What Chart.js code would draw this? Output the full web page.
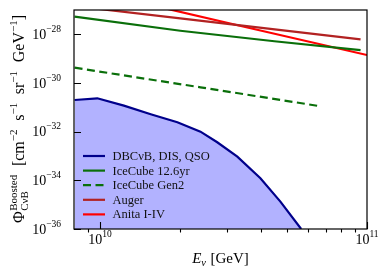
<!DOCTYPE html>
<html><head><meta charset="utf-8">
<script src="https://cdn.jsdelivr.net/npm/chart.js@4/dist/chart.umd.min.js"></script>
<style>html,body{margin:0;padding:0;background:#fff;}#wrap{width:391px;height:279px;}</style>
</head><body><div id="wrap"><canvas id="c" width="391" height="279"></canvas></div>
<script>
// ---- data ----
const energyDBC = [8.04e9, 9.78e9, 1.23e10, 1.55e10, 1.95e10, 2.38e10, 2.75e10, 3.27e10, 3.99e10, 4.74e10, 5.67e10];
const fluxDBC   = [2.0e-31, 2.35e-31, 1.17e-31, 5.2e-32, 2.43e-32, 1.0e-32, 3.67e-33, 9.4e-34, 1.22e-34, 1.33e-35, 1.0e-36];
const energyIC  = [8.04e9, 2.0e10, 4.5e10, 9.46e10];
const fluxIC    = [5.3e-28, 1.4e-28, 5.2e-29, 2.26e-29];
const energyGen2 = [8.04e9, 2.38e10, 6.6e10];
const fluxGen2   = [4.25e-30, 6.65e-31, 1.135e-31];
const energyAuger = [8.04e9, 2.0e10, 9.46e10];
const fluxAuger   = [1.45e-27, 4.5e-28, 6.2e-29];
const energyAnita = [1.45e10, 3.5e10, 1.0e11];
const fluxAnita   = [1.9e-27, 2.0e-28, 1.41e-29];
const seriesLabels = ['DBC\u03BDB, DIS, QSO', 'IceCube 12.6yr', 'IceCube Gen2', 'Auger', 'Anita I-IV'];

const xMajorTicks = [1e10, 1e11];
const xMajorExp = ['10', '11'];
const xMinorTicks = [9e9, 2e10, 3e10, 4e10, 5e10, 6e10, 7e10, 8e10, 9e10];
const yMajorTicks = [1e-36, 1e-34, 1e-32, 1e-30, 1e-28];
const yMajorExp = ['\u221236', '\u221234', '\u221232', '\u221230', '\u221228'];

const SERIF = '"Liberation Serif", "DejaVu Serif", serif';
function pts(xs, ys){ return xs.map((x,i)=>({x:x, y:ys[i]})); }

function partWidth(ctx, p){
  if (p.stack){ return Math.max(...p.stack.map(s=>partWidth(ctx,s))); }
  ctx.font = p.f; return ctx.measureText(p.t).width;
}
function richWidth(ctx, parts){ return parts.reduce((a,p)=>a+partWidth(ctx,p)+(p.gap||0),0); }
function drawRich(ctx, parts, x, y){
  let cx = x;
  for (const p of parts){
    if (p.stack){
      for (const s of p.stack){ ctx.font = s.f; ctx.fillText(s.t, cx, y+(s.dy||0)); }
    } else { ctx.font = p.f; ctx.fillText(p.t, cx, y+(p.dy||0)); }
    cx += partWidth(ctx,p) + (p.gap||0);
  }
  return cx - x;
}

const axesPlugin = {
  id: 'axesPlugin',
  afterDraw(chart){
    const ctx = chart.ctx, a = chart.chartArea;
    const xs = chart.scales.x, ys = chart.scales.y;
    ctx.save();
    ctx.fillStyle = '#000'; ctx.strokeStyle = '#000'; ctx.textBaseline = 'alphabetic'; ctx.textAlign = 'left';
    // ticks
    ctx.lineWidth = 1.1;
    ctx.beginPath();
    yMajorTicks.forEach(v=>{ const py = Math.round(ys.getPixelForValue(v))+0.5; ctx.moveTo(a.left, py); ctx.lineTo(a.left+7, py); });
    xMajorTicks.forEach(v=>{ const px = Math.round(xs.getPixelForValue(v))+0.5; ctx.moveTo(px, a.bottom); ctx.lineTo(px, a.bottom-7); });
    xMinorTicks.forEach(v=>{ const px = Math.round(xs.getPixelForValue(v))+0.5; ctx.moveTo(px, a.bottom); ctx.lineTo(px, a.bottom+3.5); });
    ctx.stroke();
    // frame
    ctx.lineWidth = 1.2;
    ctx.strokeRect(a.left, a.top, a.right-a.left, a.bottom-a.top);
    // y tick labels
    yMajorTicks.forEach((v,i)=>{
      const py = ys.getPixelForValue(v);
      const parts = [{t:'10', f:'14px '+SERIF}, {t:yMajorExp[i], f:'9.5px '+SERIF, dy:-7}];
      const w = richWidth(ctx, parts);
      drawRich(ctx, parts, 61 - w, py + 4.8);
    });
    // x tick labels
    xMajorTicks.forEach((v,i)=>{
      const px = xs.getPixelForValue(v);
      const parts = [{t:'10', f:'14px '+SERIF}, {t:xMajorExp[i], f:'9.5px '+SERIF, dy:-7}];
      const w = richWidth(ctx, parts);
      drawRich(ctx, parts, px - w/2, 244);
    });
    // x title
    const xt = [{t:'E', f:'italic 15px '+SERIF}, {t:'\u03BD', f:'italic 10.5px '+SERIF, dy:3, gap:4.5}, {t:'[GeV]', f:'15px '+SERIF}];
    const xw = richWidth(ctx, xt);
    drawRich(ctx, xt, (a.left+a.right)/2 - xw/2, 263);
    // y title (rotated)
    const M = '16px '+SERIF, S = '11px '+SERIF;
    const groups = [
      [{t:'\u03A6', f:'16px '+SERIF, gap:0.5}, {stack:[{t:'Boosted', f:S, dy:-7},{t:'C\u03BDB', f:S, dy:4}]}],
      [{t:'[cm', f:M}, {t:'\u22122', f:S, dy:-7}],
      [{t:'s', f:M}, {t:'\u22121', f:S, dy:-7}],
      [{t:'sr', f:M}, {t:'\u22121', f:S, dy:-7}],
      [{t:'GeV', f:M}, {t:'\u22121', f:S, dy:-7}, {t:']', f:M}]
    ];
    let natural = groups.reduce((s,g)=>s+richWidth(ctx,g),0);
    const target = 208;
    const gapW = Math.max(3, (target - natural)/(groups.length-1));
    ctx.translate(24, 223);
    ctx.rotate(-Math.PI/2);
    let cx = 0;
    groups.forEach(g=>{ cx += drawRich(ctx, g, cx, 0) + gapW; });
    ctx.restore();

    // legend
    ctx.save();
    const lx0 = 83, lx1 = 105, tx = 112.5, y0 = 156, dyRow = 14.6;
    chart.data.datasets.forEach((ds,i)=>{
      const y = y0 + i*dyRow;
      ctx.strokeStyle = ds.borderColor; ctx.lineWidth = ds.borderWidth;
      ctx.setLineDash(ds.borderDash || []);
      ctx.beginPath(); ctx.moveTo(lx0, y); ctx.lineTo(lx1, y); ctx.stroke();
      ctx.setLineDash([]);
      ctx.fillStyle = '#111'; ctx.font = '12.5px '+SERIF; ctx.textBaseline='alphabetic';
      ctx.fillText(ds.label, tx, y + 4);
    });
    ctx.restore();
  }
};

new Chart(document.getElementById('c'), {
  type: 'line',
  data: {
    datasets: [
      {label: seriesLabels[0], data: pts(energyDBC, fluxDBC), borderColor:'#00008b', backgroundColor:'rgba(0,0,255,0.3)', fill:'start', borderWidth:2.2},
      {label: seriesLabels[1], data: pts(energyIC, fluxIC), borderColor:'#0a6f0a', fill:false, borderWidth:2.2},
      {label: seriesLabels[2], data: pts(energyGen2, fluxGen2), borderColor:'#0a6f0a', fill:false, borderWidth:2.2, borderDash:[8,4.5]},
      {label: seriesLabels[3], data: pts(energyAuger, fluxAuger), borderColor:'#b22222', fill:false, borderWidth:2.2},
      {label: seriesLabels[4], data: pts(energyAnita, fluxAnita), borderColor:'#ff0000', fill:false, borderWidth:2.2}
    ]
  },
  options: {
    responsive:false, animation:false, devicePixelRatio:1,
    layout:{padding:{left:74, top:10, right:24, bottom:50}},
    elements:{point:{radius:0}, line:{tension:0}},
    plugins:{legend:{display:false}, tooltip:{enabled:false}},
    scales:{
      x:{type:'logarithmic', min:8e9, max:1e11, display:false,
         afterBuildTicks(s){ s.ticks = xMajorTicks.map(v=>({value:v})); }},
      y:{type:'logarithmic', min:1e-36, max:1e-27, display:false,
         afterBuildTicks(s){ s.ticks = yMajorTicks.map(v=>({value:v})); }}
    }
  },
  plugins:[axesPlugin]
});
</script></body></html>
